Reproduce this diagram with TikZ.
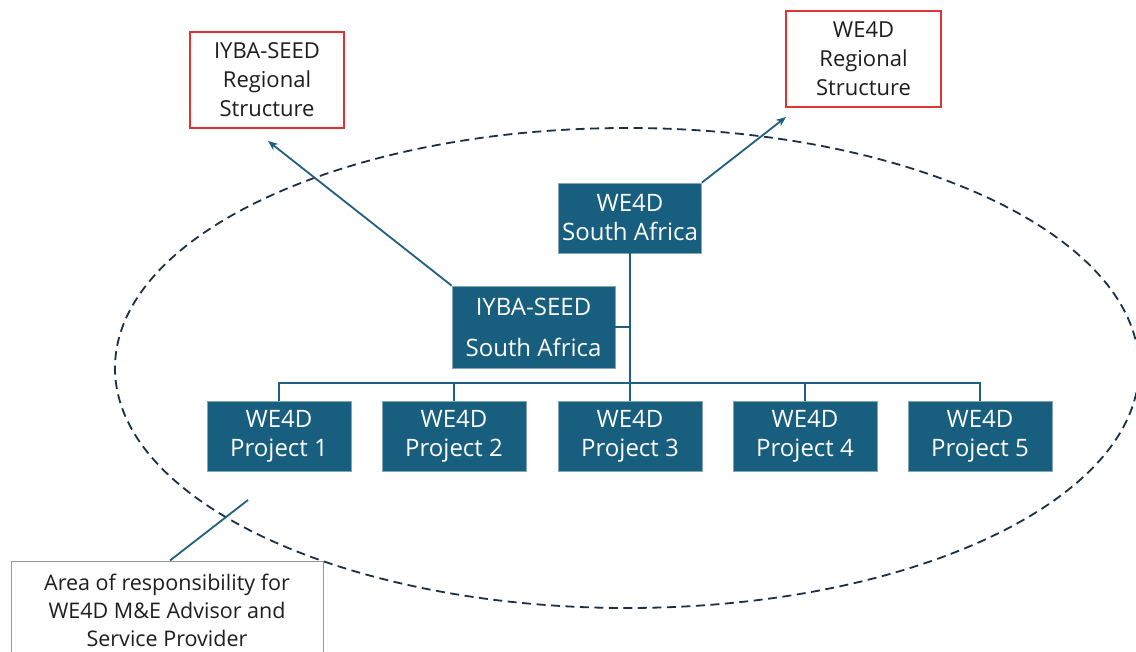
\documentclass[tikz,border=0pt]{standalone}
\usepackage{fontspec}
\setmainfont{Open Sans}
\usetikzlibrary{arrows.meta}
\definecolor{boxblue}{RGB}{24,94,126}
\definecolor{linkblue}{RGB}{31,95,127}
\definecolor{dashnavy}{RGB}{28,48,68}
\definecolor{redline}{RGB}{222,52,52}
\definecolor{grayline}{RGB}{150,150,150}
\definecolor{txt}{RGB}{30,30,30}
\tikzset{
  bluebox/.style={fill=boxblue, draw=boxblue!55!white, line width=0.8pt, text=white, align=center,
    inner sep=0pt, minimum width=144pt, minimum height=70pt, font=\fontsize{24}{29}\selectfont},
  redbox/.style={draw=redline, line width=1.2pt, fill=white, text=txt, align=center,
    inner sep=0pt, minimum width=154pt, minimum height=96pt, font=\fontsize{22}{29}\selectfont},
  notebox/.style={draw=grayline, line width=1pt, fill=white, text=txt, align=center,
    inner sep=0pt, minimum width=312pt, minimum height=99pt, font=\fontsize{21.5}{28}\selectfont},
  link/.style={draw=linkblue, line width=1.8pt},
  arrowlink/.style={link, -{Stealth[length=10pt,width=8pt]}},
  dashring/.style={draw=dashnavy, line width=1.8pt, dash pattern=on 9pt off 5.5pt},
}
\begin{document}
\begin{tikzpicture}[x=1pt,y=-1pt]
\useasboundingbox (0,0) rectangle (1136,652);
\clip (0,0) rectangle (1136,652);
\fill[white] (0,0) rectangle (1136,652);

% dashed area of responsibility
\draw[dashring] (627,368) ellipse [x radius=512pt, y radius=240pt];

% nodes
\node[bluebox, minimum width=143pt] (wesa) at (630,218) {WE4D\\South Africa};
\node[bluebox, minimum width=163pt, minimum height=82pt, font=\fontsize{24}{41}\selectfont] (iyba) at (533.5,327) {IYBA-SEED\\South Africa};
\node[bluebox] (p1) at (279,436) {WE4D\\Project 1};
\node[bluebox] (p2) at (454,436) {WE4D\\Project 2};
\node[bluebox] (p3) at (630,436) {WE4D\\Project 3};
\node[bluebox] (p4) at (805,436) {WE4D\\Project 4};
\node[bluebox] (p5) at (980,436) {WE4D\\Project 5};
\node[redbox] (iybareg) at (267,80) {IYBA-SEED\\Regional\\Structure};
\node[redbox, minimum width=155pt] (wereg) at (863.5,59) {WE4D\\Regional\\Structure};
\node[notebox] (area) at (167,610.5) {Area of responsibility for\\WE4D M\&E Advisor and\\Service Provider};

\coordinate (bus) at (630,383);
\coordinate (iybatip) at (268,141);
\coordinate (wetip) at (786,117);
\coordinate (areatip) at (248,500);

% tree connectors
\draw[link] (wesa.south) -- (wesa.south |- bus);
\draw[link] (iyba.east) -- (iyba.east -| wesa.south);
\draw[link] (p1.north) -- (p1.north |- bus) -- (p5.north |- bus) -- (p5.north);
\draw[link] (p2.north) -- (p2.north |- bus);
\draw[link] (p3.north) -- (p3.north |- bus);
\draw[link] (p4.north) -- (p4.north |- bus);

% arrows to regional structures
\draw[arrowlink] (iyba.north west) -- (iybatip);
\draw[arrowlink] (wesa.north east) -- (wetip);

% pointer from note
\draw[link] ([xshift=3pt]area.north) -- (areatip);
\end{tikzpicture}
\end{document}
